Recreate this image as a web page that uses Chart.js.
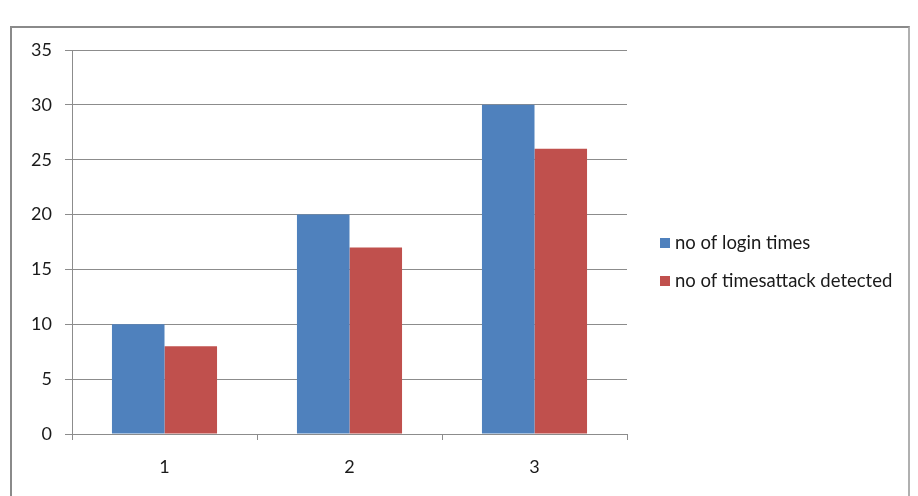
<!DOCTYPE html>
<html>
<head>
<meta charset="utf-8">
<script src="https://cdn.jsdelivr.net/npm/chart.js@4.4.0/dist/chart.umd.min.js"></script>
<style>
  html, body { margin: 0; padding: 0; background: #fff; overflow: hidden; }
  #frame { position: absolute; left: 10px; top: 26px; width: 900px; height: 480px;
           border: 2px solid #8a8a8a; border-right-color: #b0b0b0; box-sizing: border-box; }
  #wrap { position: absolute; left: 0; top: 0; width: 918px; height: 496px; }
</style>
</head>
<body>
<div id="frame"></div>
<div id="wrap"><canvas id="myBar" width="918" height="496"></canvas></div>
<script>
var categories = ["1", "2", "3"];
var loginTimes = [10, 20, 30];
var attackDetected = [8, 17, 26];
var seriesNames = ["no of login times", "no of timesattack detected"];
var yTicks = [0, 5, 10, 15, 20, 25, 30, 35];

var fontFam = "Lato, 'Open Sans', sans-serif";
var gridColor = "#8c8c8c";

// right side legend, drawn by hand so the plot area keeps its place
var sideLegend = {
  id: 'sideLegend',
  afterDraw: function(chart) {
    var ctx = chart.ctx;
    var sets = chart.data.datasets;
    ctx.save();
    ctx.font = "18.5px " + fontFam;
    ctx.textBaseline = "middle";
    for (var i = 0; i < sets.length; i++) {
      var y = 243 + i * 38;
      ctx.fillStyle = sets[i].backgroundColor;
      ctx.fillRect(660, y - 5, 10, 10);
      ctx.fillStyle = "#1a1a1a";
      ctx.fillText(sets[i].label, 675, y);
    }
    ctx.restore();
  }
};

var ctx = document.getElementById("myBar").getContext('2d');
var myBarChart = new Chart(ctx, {
  type: 'bar',
  data: {
    labels: categories,
    datasets: [
      { label: seriesNames[0], data: loginTimes, backgroundColor: "#4f81bd" },
      { label: seriesNames[1], data: attackDetected, backgroundColor: "#c0504d" }
    ]
  },
  options: {
    responsive: false,
    animation: false,
    layout: { padding: { left: 0, top: 50, right: 291, bottom: 0 } },
    categoryPercentage: 0.568,
    barPercentage: 1,
    plugins: { legend: { display: false }, tooltip: { enabled: false } },
    scales: {
      x: {
        grid: { offset: true, drawOnChartArea: false, drawTicks: true, tickLength: 6, color: gridColor },
        border: { color: gridColor },
        ticks: { color: "#1a1a1a", font: { size: 18, family: fontFam }, padding: 16 },
        afterFit: function(s) { s.height = 62; }
      },
      y: {
        min: 0, max: 35,
        afterBuildTicks: function(s) { s.ticks = yTicks.map(function(v) { return { value: v }; }); },
        grid: { color: gridColor, tickLength: 7 },
        border: { color: gridColor },
        ticks: { color: "#1a1a1a", font: { size: 18, family: fontFam }, padding: 13 },
        afterFit: function(s) { s.width = 72; }
      }
    }
  },
  plugins: [sideLegend]
});
</script>
</body>
</html>
